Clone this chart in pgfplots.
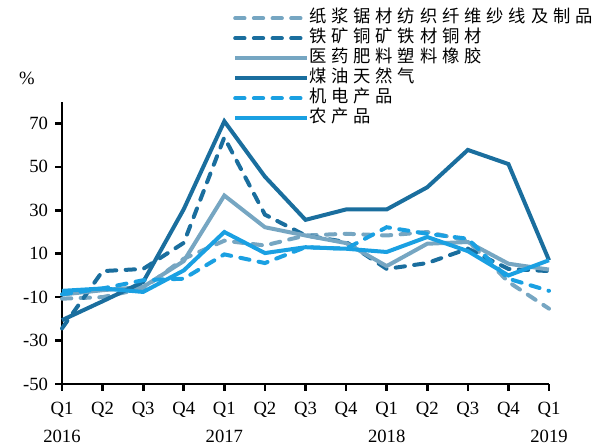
\documentclass[border=0pt]{standalone}
\usepackage{pgfplots}
\pgfplotsset{compat=1.18}
\usepackage{fontspec}
\setmainfont{Liberation Serif}
\newfontfamily\cjk[LetterSpace=28]{Noto Sans CJK SC}
\definecolor{cdark}{HTML}{1A6E9E}
\definecolor{clight}{HTML}{76A6C2}
\definecolor{cbright}{HTML}{1AA0E2}
\begin{document}
\begin{tikzpicture}
\useasboundingbox (-46.5pt,-46.5pt) rectangle (403.5pt,288pt);
\begin{axis}[
  at={(0,0)}, anchor=south west,
  scale only axis, width=365.25pt, height=211.7pt,
  xmin=0, xmax=12, ymin=-50, ymax=80,
  clip=false,
  axis lines=left,
  axis line style={-, line width=2pt, black},
  every tick/.style={line width=2pt, black},
  tick align=outside, major tick length=5pt,
  ytick={-50,-30,-10,10,30,50,70},
  xtick={0,1,2,3,4,5,6,7,8,9,10,11,12},
  xticklabels={{Q1\\2016},Q2,Q3,Q4,{Q1\\2017},Q2,Q3,Q4,{Q1\\2018},Q2,Q3,Q4,{Q1\\2019}},
  x tick label style={align=center, font=\fontsize{14}{21}\selectfont, yshift=-5pt},
  y tick label style={font=\fontsize{14}{16}\selectfont, xshift=-2pt},
  /pgf/number format/assume math mode=true,
  legend cell align=left,
  legend style={at={(axis description cs:0.351,1.332)}, anchor=north west,
    draw=none, fill=none, inner sep=0pt,
    font=\cjk\fontsize{13}{15}\selectfont,
    nodes={inner sep=0pt, text height=11pt, text depth=4pt},
    /tikz/every odd column/.style={inner xsep=4pt}},
  legend image code/.code={\draw[#1] (0pt,0pt) -- (54pt,0pt);},
  every axis plot/.append style={line width=3pt, mark=none},
]
\addplot[clight, dash pattern=on 7pt off 7pt, line cap=round] coordinates {
(0,-10.7) (1,-10) (2,-6) (3,7.7) (4,16) (5,13.8) (6,18.4) (7,19.2) (8,18.4) (9,20) (10,16) (11,-3) (12,-15.3)};
\addlegendentry{纸浆锯材纺织纤维纱线及制品}
\addplot[cdark, dash pattern=on 7pt off 7pt, line cap=round] coordinates {
(0,-24.4) (1,2) (2,3) (3,15) (4,63.6) (5,28) (6,18.4) (7,15.4) (8,3) (9,5.7) (10,12.3) (11,3) (12,2)};
\addlegendentry{铁矿铜矿铁材铜材}
\addplot[clight] coordinates {
(0,-8.8) (1,-6.8) (2,-5.3) (3,6.6) (4,36.8) (5,22.2) (6,18.4) (7,14.9) (8,4.3) (9,14.6) (10,15.4) (11,5.4) (12,2.7)};
\addlegendentry{医药肥料塑料橡胶}
\addplot[cdark] coordinates {
(0,-20.6) (1,-11.9) (2,-3) (3,30.5) (4,71) (5,45.5) (6,25.6) (7,30.4) (8,30.4) (9,40.6) (10,57.8) (11,51.3) (12,7)};
\addlegendentry{煤油天然气}
\addplot[cbright, dash pattern=on 7pt off 7pt, line cap=round] coordinates {
(0,-8.7) (1,-6) (2,-2.2) (3,-1.5) (4,9.7) (5,5.7) (6,13) (7,12.3) (8,22.2) (9,19.2) (10,16.9) (11,-1.5) (12,-7.1)};
\addlegendentry{机电产品}
\addplot[cbright] coordinates {
(0,-7.1) (1,-6) (2,-7.6) (3,2.3) (4,20) (5,10.3) (6,13) (7,12.3) (8,10.8) (9,17.7) (10,11.2) (11,0) (12,7)};
\addlegendentry{农产品}
\end{axis}
\node[font=\fontsize{14}{16}\selectfont] at (-26.25pt,229.5pt) {\%};
\end{tikzpicture}
\end{document}
